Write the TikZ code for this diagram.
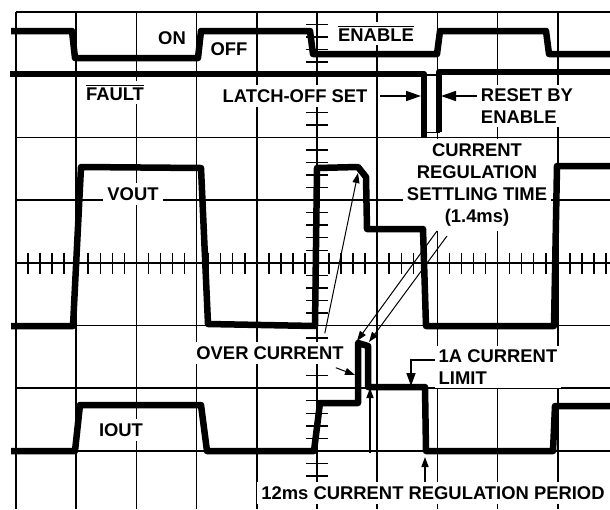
\documentclass[tikz,border=0pt]{standalone}
\usepackage{fontspec}
\setmainfont{Liberation Sans}
\usetikzlibrary{arrows.meta}
\newcommand\barred[1]{\vbox{\hrule height 1.3pt\kern 1.8pt\hbox{#1}}}

\begin{document}
\begin{tikzpicture}[x=1pt, y=-1pt,
  gridln/.style = {line width=1.5pt},
  trace/.style = {line width=6.5pt, line join=round},
  lbl/.style = {fill=white, inner sep=4pt, font=\bfseries\fontsize{18.4}{21.5}\selectfont},
  arr/.style = {line width=1pt, -{Triangle[length=10pt, width=7pt]}},
  bigarr/.style = {line width=1.5pt, -{Triangle[length=15pt, width=10pt]}}]
\useasboundingbox (0,0) rectangle (610,509);
\foreach \i in {0,...,9} \draw[gridln] ({16+60.2*\i},12) -- ({16+60.2*\i},509);
\foreach \j in {0,...,7} \draw[gridln] (16,{12+62.7*\j}) -- (610,{12+62.7*\j});
\foreach \i in {1,...,49} \draw[gridln] ({16+12.04*\i},252.5) -- ({16+12.04*\i},273.5);
\foreach \j in {1,...,39} \draw[gridln] (306,{12+12.54*\j}) -- (328,{12+12.54*\j});

\node[lbl] (on) at (172,38) {ON};
\node[lbl] (off) at (229,49) {OFF};
\node[lbl] (enable) at (376,33.5) {\barred{ENABLE}};
\node[lbl] (fault) at (115,92.5) {\barred{FAULT}};
\node[lbl] (latch) at (295,96) {LATCH-OFF SET};
\node[lbl, align=left] (reset) at (527,106) {RESET BY\\ENABLE};
\node[lbl] (vout) at (133,194) {VOUT};
\node[lbl, align=center, font=\bfseries\fontsize{18.4}{22.3}\selectfont] (settle) at (477,185)
  {CURRENT\\REGULATION\\SETTLING TIME\\(1.4ms)};
\node[lbl] (over) at (270,353) {OVER CURRENT};
\node[lbl, align=left] (limit) at (498,367) {1A CURRENT\\LIMIT};
\node[lbl] (iout) at (121,430) {IOUT};
\node[lbl] (period) at (433,493) {12ms CURRENT REGULATION PERIOD};

\draw[trace] (11,31) -- (72,31) -- (75,58) -- (198,58) -- (201,31) -- (310,31) -- (313,54)
  -- (437,54) -- (440,31) -- (546,31) -- (549,54) -- (610,54);
\draw[trace] (10,74) -- (424,74) -- (424,138);
\draw[trace] (439,132) -- (439,72) -- (610,72);
\draw[line width=1pt] (424,75) rectangle (439,132);
\draw[trace] (11,326) -- (73,326) -- (81,167) -- (201,168) -- (208,324) -- (315,326) -- (317,168)
  -- (358,167) -- (366,177) -- (367,229) -- (423,229) -- (426,326) -- (554,326) -- (557,166) -- (610,166);
\draw[trace] (11,451) -- (75,451) -- (80,405) -- (201,405) -- (207,451) -- (314,451) -- (320,403)
  -- (358,403) -- (358,343) -- (368,346) -- (368,387) -- (425,387) -- (426,451) -- (553,451)
  -- (555,406) -- (610,406);

\coordinate (latchtip) at (421,96);
\coordinate (resettip) at (441,96);
\coordinate (peaktip) at (358,173);
\coordinate (spiketipl) at (357,341);
\coordinate (spiketipr) at (369,342);
\coordinate (spikeside) at (355,375);
\coordinate (limittip) at (411,386);
\coordinate (startfrom) at (370,453);
\coordinate (starttip) at (370,388);
\coordinate (endtip) at (425,457);

\draw[bigarr] (latch.east) ++(8,0) -- (latchtip);
\draw[bigarr] (reset.west |- resettip) -- (resettip);
\draw[arr] (over.north east) ++(-23,-9) -- (peaktip);
\draw[arr] (settle.south) ++(-40,0) -- (spiketipl);
\draw[arr] (settle.south) ++(-30,5) -- (spiketipr);
\draw[arr] (over.south east) ++(-12,4) -- (spikeside);
\draw[arr, line width=1.5pt, -{Triangle[length=13pt, width=9pt]}] (limit.west) ++(0,-7) -| (limittip);
\draw[arr, line width=1.5pt] (startfrom) -- (starttip);
\draw[arr, line width=1.5pt] (period.north -| endtip) -- (endtip);
\end{tikzpicture}
\end{document}
